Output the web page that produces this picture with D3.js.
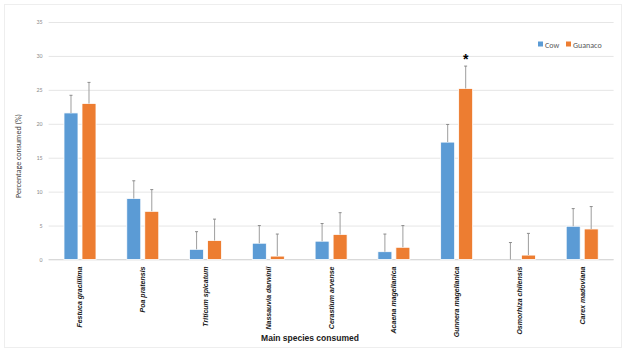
<!DOCTYPE html>
<html><head><meta charset="utf-8">
<script src="https://cdn.jsdelivr.net/npm/d3@7"></script>
<style>body{margin:0;background:#fff}svg{display:block}</style>
</head><body>
<script>
const categories = ["Festuca gracillima","Poa pratensis","Triticum spicatum","Nassauvia darwinii","Cerastium arvense","Acaena magellanica","Gunnera magellanica","Osmorhiza chilensis","Carex madoviana"];
const seriesNames = ["Cow","Guanaco"];
const cowValues = [21.6, 9.0, 1.5, 2.4, 2.7, 1.15, 17.3, 0, 4.9];
const cowErrTop = [24.2, 11.6, 4.1, 5.0, 5.3, 3.75, 19.9, 2.5, 7.5];
const guanacoValues = [23.0, 7.1, 2.8, 0.5, 3.7, 1.8, 25.2, 0.65, 4.5];
const guanacoErrTop = [26.1, 10.3, 5.95, 3.75, 6.9, 5.0, 28.5, 3.85, 7.8];
const yTicks = [0,5,10,15,20,25,30,35];
const colors = ["#5B9BD5","#ED7D31"];

(function(){
const W = 628, H = 355;
const svg = d3.select("body").append("svg").attr("width", W).attr("height", H);
svg.append("rect").attr("x",4.5).attr("y",4.5).attr("width",617).attr("height",343)
  .attr("fill","#fff").attr("stroke","#eeeeee");

const pl = 48.6, pr = 613.6, pt = 22, pb = 259.5;
const y = d3.scaleLinear().domain([0,35]).range([pb, pt]);
const x = d3.scaleBand().domain(categories).range([pl, pr]);
const groupW = 32;
const xs = d3.scaleBand().domain(seriesNames).range([0, groupW]).paddingInner(0.222);
const off = (x.bandwidth() - groupW) / 2;

const yAxis = d3.axisLeft(y).tickValues(yTicks).tickSize(-(pr-pl)).tickPadding(6);
const gy = svg.append("g").attr("transform", `translate(${pl},0)`).call(yAxis);
gy.select(".domain").remove();
gy.selectAll(".tick line").attr("stroke", "#e6e6e6");
gy.selectAll(".tick text").attr("fill","#8c8c8c").style("font-family","Calibri, 'Liberation Sans', sans-serif").style("font-size","6px");

svg.append("line").attr("x1",pl).attr("x2",pr).attr("y1",y(0)).attr("y2",y(0)).attr("stroke","#d9d9d9");

const data = [cowValues, guanacoValues];
const errs = [cowErrTop, guanacoErrTop];
seriesNames.forEach((s, si) => {
  const g = svg.append("g");
  categories.forEach((c, i) => {
    const bx = x(c) + off + xs(s);
    const bw = xs.bandwidth();
    const v = data[si][i];
    if (v > 0) {
      g.append("rect").attr("x", bx).attr("y", y(v)).attr("width", bw).attr("height", y(0) - y(v))
        .attr("fill", colors[si]).attr("stroke", "#fff").attr("stroke-width", 0.8);
    }
    const cx = bx + bw/2;
    g.append("line").attr("x1", cx).attr("x2", cx).attr("y1", y(v)).attr("y2", y(errs[si][i]))
      .attr("stroke", "#a6a6a6").attr("stroke-width", 1.1);
    g.append("line").attr("x1", cx-1.5).attr("x2", cx+1.5).attr("y1", y(errs[si][i])).attr("y2", y(errs[si][i]))
      .attr("stroke", "#8c8c8c").attr("stroke-width", 1);
  });
});

const gi = categories.indexOf("Gunnera magellanica");
svg.append("text").attr("x", x(categories[gi]) + off + xs("Guanaco") + xs.bandwidth()/2)
  .attr("y", y(guanacoErrTop[gi]) - 2).attr("text-anchor","middle")
  .style("font-family","'Liberation Sans', Arial, sans-serif").style("font-size","14px").style("font-weight","bold")
  .attr("fill","#000").text("*");

categories.forEach(c => {
  const cx = x(c) + x.bandwidth()/2;
  svg.append("text").attr("transform", `translate(${cx+2.5},${pb+7}) rotate(-90)`)
    .attr("text-anchor","end")
    .style("font-family","'Liberation Sans', Arial, sans-serif").style("font-size","7px")
    .style("font-weight","bold").style("font-style","italic").attr("fill","#1a1a1a").text(c);
});

svg.append("text").attr("transform", `translate(21,156) rotate(-90)`).attr("text-anchor","middle")
  .style("font-family","Calibri, 'Liberation Sans', sans-serif").style("font-size","8px").attr("fill","#404040")
  .text("Percentage consumed (%)");
svg.append("text").attr("x", 310).attr("y", 341).attr("text-anchor","middle")
  .style("font-family","'Liberation Sans', Arial, sans-serif").style("font-size","8.5px").style("font-weight","bold").attr("fill","#1a1a1a")
  .text("Main species consumed");

const leg = svg.append("g");
const legX = [538, 566];
seriesNames.forEach((s, i) => {
  leg.append("rect").attr("x", legX[i]).attr("y", 41.5).attr("width", 5).attr("height", 5).attr("fill", colors[i]);
  leg.append("text").attr("x", legX[i] + 7).attr("y", 47.5)
    .style("font-family","Calibri, 'Liberation Sans', sans-serif").style("font-size","8px").attr("fill","#595959").text(s);
});
})();
</script>
</body></html>
